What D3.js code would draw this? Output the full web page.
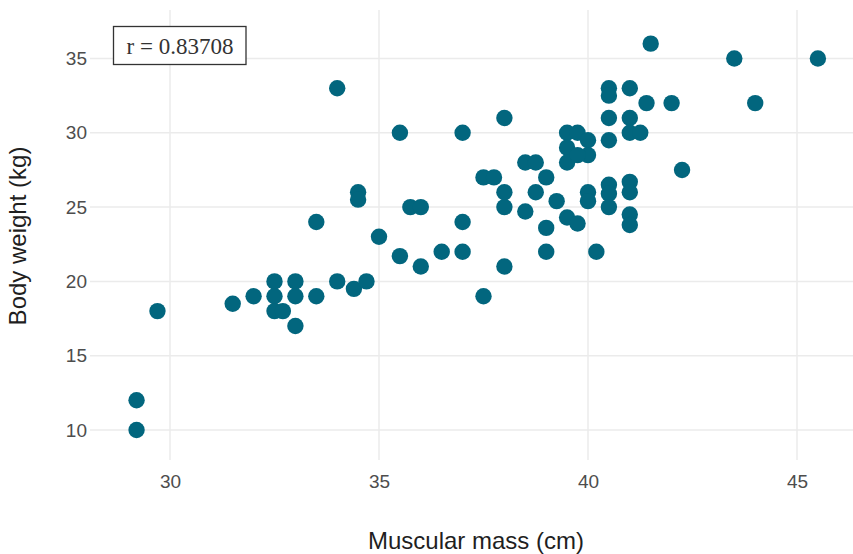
<!DOCTYPE html>
<html>
<head>
<meta charset="utf-8">
<script src="https://cdn.jsdelivr.net/npm/d3@7"></script>
<style>
  html, body { margin: 0; padding: 0; background: #fff; }
  svg { display: block; }
</style>
</head>
<body>
<svg id="chart" width="853" height="554"></svg>
<script>
// ---- data ----
const muscularMass = [
  29.2, 29.2, 29.7, 31.5, 32.0, 32.5, 32.5, 32.5, 32.7, 33.0,
  33.0, 33.0, 33.5, 33.5, 34.0, 34.0, 34.5, 34.5, 34.4, 34.7,
  35.0, 35.5, 35.5, 35.75, 36.0, 36.0, 36.5, 37.0, 37.0, 37.0,
  37.5, 37.75, 37.5, 38.0, 38.0, 38.0, 38.0, 38.5, 38.75, 39.0,
  38.75, 38.5, 39.0, 39.0, 39.25, 39.5, 39.75, 40.0, 39.5, 40.0,
  39.5, 39.75, 39.5, 39.75, 40.0, 40.0, 40.2, 40.5, 40.5, 41.0,
  40.5, 41.0, 41.0, 41.25, 40.5, 41.4, 42.0, 41.5, 43.5, 45.5,
  44.0, 42.25, 40.5, 40.5, 40.5, 41.0, 41.0, 41.0, 41.0
];
const bodyWeight = [
  12, 10, 18, 18.5, 19, 20, 19, 18, 18, 20,
  19, 17, 19, 24, 33, 20, 26, 25.5, 19.5, 20,
  23, 30, 21.7, 25, 25, 21, 22, 30, 24, 22,
  27, 27, 19, 31, 26, 25, 21, 28, 28, 27,
  26, 24.7, 23.6, 22, 25.4, 30, 30, 29.5, 29, 28.5,
  28, 28.5, 24.3, 23.9, 26, 25.4, 22, 33, 32.5, 33,
  31, 31, 30, 30, 29.5, 32, 32, 36, 35, 35,
  32, 27.5, 26.5, 25.9, 25, 26.7, 26, 24.5, 23.8
];
const xTicks = [30, 35, 40, 45];
const yTicks = [10, 15, 20, 25, 30, 35];
const xTitle = "Muscular mass (cm)";
const yTitle = "Body weight (kg)";
const rLabel = "r = 0.83708";

// ---- layout ----
const svg = d3.select("#chart");
const panel = { left: 90, right: 853, top: 10, bottom: 460 };

const x = d3.scaleLinear().domain([30, 45]).range([170, 797]);
const y = d3.scaleLinear().domain([10, 35]).range([430, 58.5]);

const gridColor = "#ebebeb";
const tickColor = "#4d4d4d";

// grid lines
svg.append("g").selectAll("line.vx").data(xTicks).join("line")
  .attr("x1", d => x(d)).attr("x2", d => x(d))
  .attr("y1", panel.top).attr("y2", panel.bottom)
  .attr("stroke", gridColor).attr("stroke-width", 1.5);

svg.append("g").selectAll("line.hy").data(yTicks).join("line")
  .attr("y1", d => y(d)).attr("y2", d => y(d))
  .attr("x1", panel.left).attr("x2", panel.right)
  .attr("stroke", gridColor).attr("stroke-width", 1.5);

// axes (labels only, no lines) via d3 axes
const xAxis = svg.append("g")
  .attr("transform", `translate(0,${panel.bottom + 8})`)
  .call(d3.axisBottom(x).tickValues(xTicks).tickSize(0).tickPadding(2).tickFormat(d3.format("d")));
xAxis.select(".domain").remove();
xAxis.selectAll("text")
  .attr("font-family", "'Liberation Sans', Arial, sans-serif")
  .attr("font-size", 19).attr("fill", tickColor).attr("dy", "0.95em");

const yAxis = svg.append("g")
  .attr("transform", `translate(${panel.left - 3},0)`)
  .call(d3.axisLeft(y).tickValues(yTicks).tickSize(0).tickPadding(0).tickFormat(d3.format("d")));
yAxis.select(".domain").remove();
yAxis.selectAll("text")
  .attr("font-family", "'Liberation Sans', Arial, sans-serif")
  .attr("font-size", 19).attr("fill", tickColor);

// points
const pts = muscularMass.map((m, i) => ({ m, w: bodyWeight[i] }));
svg.append("g").selectAll("circle").data(pts).join("circle")
  .attr("cx", d => x(d.m)).attr("cy", d => y(d.w))
  .attr("r", 8.2)
  .attr("fill", "#02667e");

// axis titles
svg.append("text")
  .attr("x", 476).attr("y", 549)
  .attr("text-anchor", "middle")
  .attr("font-family", "'Liberation Sans', Arial, sans-serif")
  .attr("font-size", 24).attr("fill", "#1f1f1f")
  .text(xTitle);

svg.append("text")
  .attr("transform", "translate(25.5,236) rotate(-90)")
  .attr("text-anchor", "middle")
  .attr("font-family", "'Liberation Sans', Arial, sans-serif")
  .attr("font-size", 24).attr("fill", "#1f1f1f")
  .text(yTitle);

// correlation annotation
svg.append("rect")
  .attr("x", 113.5).attr("y", 26.5)
  .attr("width", 132.5).attr("height", 38)
  .attr("fill", "#fff").attr("stroke", "#333").attr("stroke-width", 1.3);
svg.append("text")
  .attr("x", 126.5).attr("y", 54)
  .attr("font-family", "'Liberation Serif', 'Times New Roman', serif")
  .attr("font-size", 23).attr("fill", "#333")
  .text(rLabel);
</script>
</body>
</html>
